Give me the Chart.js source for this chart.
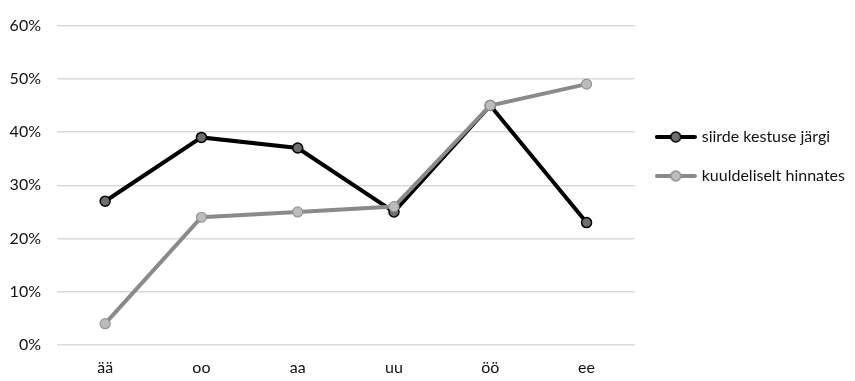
<!DOCTYPE html>
<html>
<head>
<meta charset="utf-8">
<script src="https://cdn.jsdelivr.net/npm/chart.js@4/dist/chart.umd.min.js"></script>
<style>
html,body{margin:0;padding:0;background:#fff;}
#wrap{width:855px;height:381px;position:relative;}
</style>
</head>
<body>
<div id="wrap"><canvas id="c" width="855" height="381"></canvas></div>
<script>
const categories = ['ää', 'oo', 'aa', 'uu', 'öö', 'ee'];
const seriesNames = ['siirde kestuse järgi', 'kuuldeliselt hinnates'];
const durationValues = [27, 39, 37, 25, 45, 23];
const auditoryValues = [4, 24, 25, 26, 45, 49];
const yTicks = [0, 10, 20, 30, 40, 50, 60];

const FONT = 'Lato, Carlito, Calibri, sans-serif';
const FS = 16;
const TXT = '#111111';
const styles = [
  {line: '#000000', fill: '#6e6e6e', border: '#000000'},
  {line: '#8a8a8a', fill: '#bcbcbc', border: '#959595'}
];

function legendIcon(s) {
  const cv = document.createElement('canvas');
  cv.width = 42; cv.height = 14;
  const ctx = cv.getContext('2d');
  ctx.strokeStyle = s.line; ctx.lineWidth = 4; ctx.lineCap = 'round';
  ctx.beginPath(); ctx.moveTo(2, 7); ctx.lineTo(40, 7); ctx.stroke();
  ctx.beginPath(); ctx.arc(21, 7, 5, 0, Math.PI * 2);
  ctx.fillStyle = s.fill; ctx.fill();
  ctx.lineWidth = 1.5; ctx.strokeStyle = s.border; ctx.stroke();
  return cv;
}
const icons = styles.map(legendIcon);

new Chart(document.getElementById('c'), {
  type: 'line',
  data: {
    labels: categories,
    datasets: [
      {label: seriesNames[0], data: durationValues, borderColor: styles[0].line, borderWidth: 4,
       pointBackgroundColor: styles[0].fill, pointBorderColor: styles[0].border, pointBorderWidth: 1.5,
       pointRadius: 5, tension: 0, order: 1},
      {label: seriesNames[1], data: auditoryValues, borderColor: styles[1].line, borderWidth: 4,
       pointBackgroundColor: styles[1].fill, pointBorderColor: styles[1].border, pointBorderWidth: 1.2,
       pointRadius: 5, tension: 0, order: 0}
    ]
  },
  options: {
    responsive: false,
    animation: false,
    devicePixelRatio: 1,
    layout: {padding: {top: 22, left: 0, right: 0, bottom: 0}},
    scales: {
      x: {
        offset: true,
        grid: {display: false, drawTicks: false},
        border: {display: false},
        ticks: {color: TXT, font: {family: FONT, size: FS}, padding: 13.5, maxRotation: 0},
        afterFit: (axis) => { axis.height = 36; }
      },
      y: {
        min: 0, max: 60,
        afterBuildTicks: (axis) => { axis.ticks = yTicks.map(v => ({value: v})); },
        grid: {color: '#d9d9d9', lineWidth: 1.5, drawTicks: false},
        border: {display: false},
        ticks: {color: TXT, font: {family: FONT, size: FS}, padding: 16,
                callback: (v) => v + '%'},
        afterFit: (axis) => { axis.width = 57; }
      }
    },
    plugins: {
      tooltip: {enabled: false},
      legend: {
        position: 'right',
        align: 'start',
        maxWidth: 223,
        title: {display: true, text: ' ', font: {family: FONT, size: FS}, padding: {top: 0, bottom: 64.8}},
        labels: {
          usePointStyle: true,
          pointStyleWidth: 36,
          padding: 23,
          color: TXT,
          font: {family: FONT, size: FS},
          generateLabels: (chart) => chart.data.datasets.map((ds, i) => ({
            text: ds.label, pointStyle: icons[i], fillStyle: styles[i].fill,
            strokeStyle: styles[i].line, lineWidth: 0, hidden: false, datasetIndex: i,
            fontColor: TXT
          }))
        }
      }
    }
  }
});
</script>
</body>
</html>
